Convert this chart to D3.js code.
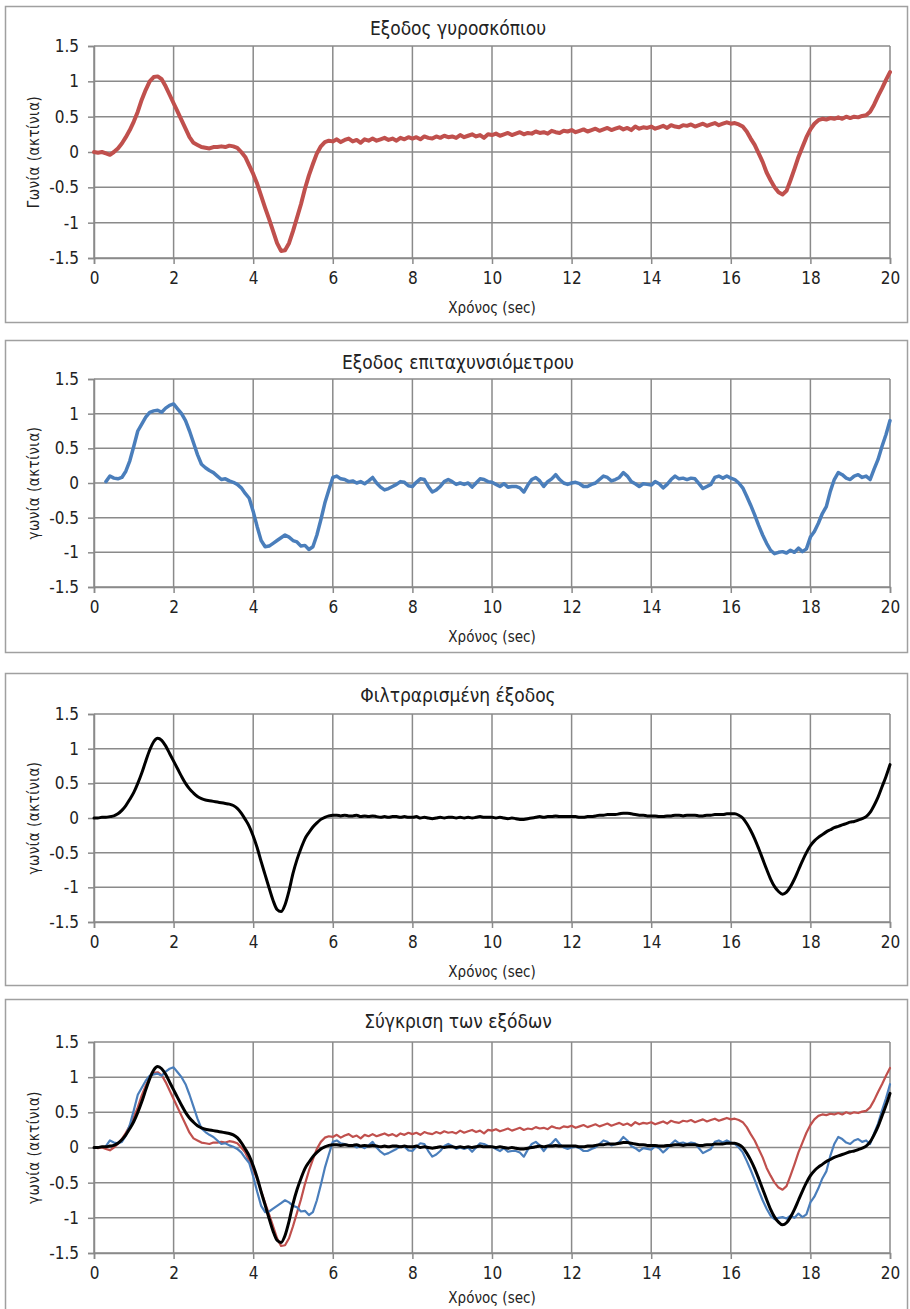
<!DOCTYPE html>
<html>
<head>
<meta charset="utf-8">
<script src="https://cdnjs.cloudflare.com/ajax/libs/d3/7.8.5/d3.min.js"></script>
<style>
  body { margin: 0; background: #fff; }
  svg text { font-family: "DejaVu Sans Condensed", "DejaVu Sans", sans-serif; fill: #222; }
</style>
</head>
<body>
<div id="chart"></div>
<script>
// sample times (sec)
const time = [
  0, 0.1, 0.2, 0.3, 0.4, 0.5, 0.6, 0.7, 0.8, 0.9,
  1, 1.1, 1.2, 1.3, 1.4, 1.5, 1.6, 1.7, 1.8, 1.9,
  2, 2.1, 2.2, 2.3, 2.4, 2.5, 2.6, 2.7, 2.8, 2.9,
  3, 3.1, 3.2, 3.3, 3.4, 3.5, 3.6, 3.7, 3.8, 3.9,
  4, 4.1, 4.2, 4.3, 4.4, 4.5, 4.6, 4.7, 4.8, 4.9,
  5, 5.1, 5.2, 5.3, 5.4, 5.5, 5.6, 5.7, 5.8, 5.9,
  6, 6.1, 6.2, 6.3, 6.4, 6.5, 6.6, 6.7, 6.8, 6.9,
  7, 7.1, 7.2, 7.3, 7.4, 7.5, 7.6, 7.7, 7.8, 7.9,
  8, 8.1, 8.2, 8.3, 8.4, 8.5, 8.6, 8.7, 8.8, 8.9,
  9, 9.1, 9.2, 9.3, 9.4, 9.5, 9.6, 9.7, 9.8, 9.9,
  10, 10.1, 10.2, 10.3, 10.4, 10.5, 10.6, 10.7, 10.8, 10.9,
  11, 11.1, 11.2, 11.3, 11.4, 11.5, 11.6, 11.7, 11.8, 11.9,
  12, 12.1, 12.2, 12.3, 12.4, 12.5, 12.6, 12.7, 12.8, 12.9,
  13, 13.1, 13.2, 13.3, 13.4, 13.5, 13.6, 13.7, 13.8, 13.9,
  14, 14.1, 14.2, 14.3, 14.4, 14.5, 14.6, 14.7, 14.8, 14.9,
  15, 15.1, 15.2, 15.3, 15.4, 15.5, 15.6, 15.7, 15.8, 15.9,
  16, 16.1, 16.2, 16.3, 16.4, 16.5, 16.6, 16.7, 16.8, 16.9,
  17, 17.1, 17.2, 17.3, 17.4, 17.5, 17.6, 17.7, 17.8, 17.9,
  18, 18.1, 18.2, 18.3, 18.4, 18.5, 18.6, 18.7, 18.8, 18.9,
  19, 19.1, 19.2, 19.3, 19.4, 19.5, 19.6, 19.7, 19.8, 19.9,
  20
];

// gyroscope output (rad)
const gyro = [
  0, -0.01, 0, -0.02, -0.04, 0, 0.05, 0.12, 0.21, 0.31,
  0.43, 0.57, 0.74, 0.88, 1.0, 1.06, 1.07, 1.03, 0.93, 0.81,
  0.69, 0.57, 0.45, 0.33, 0.21, 0.13, 0.1, 0.07, 0.06, 0.05,
  0.07, 0.07, 0.08, 0.07, 0.09, 0.08, 0.06, 0.0, -0.07, -0.19,
  -0.31, -0.45, -0.62, -0.79, -0.95, -1.12, -1.29, -1.4, -1.39, -1.29,
  -1.12, -0.93, -0.74, -0.52, -0.33, -0.17, -0.02, 0.08, 0.14, 0.16,
  0.15, 0.18, 0.14, 0.17, 0.19, 0.15, 0.17, 0.13, 0.18, 0.16,
  0.19, 0.16, 0.18, 0.2, 0.17, 0.19, 0.16, 0.2, 0.18, 0.21,
  0.19, 0.21, 0.18, 0.22, 0.2, 0.19, 0.22, 0.2, 0.23, 0.21,
  0.22, 0.2, 0.24, 0.21, 0.23, 0.25, 0.22, 0.24, 0.2, 0.25,
  0.24, 0.26, 0.23, 0.25, 0.27, 0.24, 0.26, 0.28, 0.25, 0.27,
  0.26, 0.29, 0.27, 0.28, 0.26, 0.3, 0.28, 0.27, 0.3, 0.29,
  0.31, 0.28, 0.3, 0.32, 0.29, 0.31, 0.33, 0.3, 0.32, 0.34,
  0.31, 0.33, 0.35, 0.32, 0.34, 0.31, 0.36, 0.33, 0.35, 0.34,
  0.36, 0.33, 0.35, 0.37, 0.34, 0.38, 0.36, 0.35, 0.38, 0.37,
  0.39, 0.36, 0.38, 0.4, 0.37, 0.39, 0.41, 0.38, 0.4, 0.42,
  0.4, 0.41, 0.39, 0.36, 0.29, 0.19, 0.1, -0.02, -0.14, -0.29,
  -0.4, -0.5, -0.57, -0.6, -0.55, -0.4, -0.24, -0.07, 0.07, 0.21,
  0.32, 0.4, 0.45, 0.47, 0.46, 0.48, 0.47, 0.49, 0.47, 0.5,
  0.48, 0.5, 0.49, 0.51, 0.52, 0.57, 0.67, 0.79, 0.9, 1.02,
  1.13
];

// accelerometer output (rad), starts at 0.3 s
const accel = [
  null, null, null, 0.02, 0.1, 0.07, 0.06, 0.08, 0.17, 0.32,
  0.53, 0.75, 0.85, 0.95, 1.02, 1.04, 1.05, 1.02, 1.08, 1.12,
  1.14, 1.07, 1.0, 0.9, 0.75, 0.58, 0.41, 0.27, 0.22, 0.18,
  0.15, 0.1, 0.05, 0.06, 0.03, 0.01, -0.02, -0.07, -0.15, -0.22,
  -0.41, -0.63, -0.83, -0.92, -0.91, -0.87, -0.83, -0.79, -0.75, -0.78,
  -0.83, -0.85, -0.91, -0.9, -0.96, -0.92, -0.75, -0.53, -0.29, -0.1,
  0.08, 0.1, 0.06, 0.05, 0.02, 0.03, 0.0, 0.02, -0.01, 0.03,
  0.08, 0.0, -0.06, -0.1, -0.08, -0.05, -0.02, 0.02, 0.01, -0.04,
  -0.05, 0.01, 0.06, 0.05, -0.05, -0.13, -0.1, -0.05, 0.02, 0.05,
  0.02, -0.02, 0.0, -0.02, 0.0, -0.06, 0.0, 0.06, 0.05, 0.02,
  0.01, -0.02, -0.05, -0.01, -0.06, -0.05, -0.05, -0.07, -0.13, -0.03,
  0.05, 0.08, 0.03, -0.05, 0.02, 0.06, 0.12, 0.05, 0.0, -0.02,
  0.0, 0.01, -0.01, -0.05, -0.05, -0.02, 0.0, 0.05, 0.1, 0.08,
  0.03, 0.05, 0.08, 0.15, 0.1, 0.02, -0.01, -0.05, -0.01, -0.02,
  -0.03, 0.02, -0.01, -0.07, -0.02, 0.05, 0.1, 0.06, 0.07, 0.05,
  0.07, 0.06, -0.01, -0.08, -0.05, -0.02, 0.08, 0.1, 0.07, 0.1,
  0.07, 0.05, 0.0, -0.07, -0.19, -0.32, -0.46, -0.61, -0.75, -0.87,
  -0.97, -1.02, -1.0, -0.99, -1.01, -0.97, -1.0, -0.94, -0.99, -0.95,
  -0.78, -0.7, -0.58, -0.44, -0.34, -0.12, 0.05, 0.15, 0.12, 0.07,
  0.05, 0.1, 0.12, 0.08, 0.1, 0.05, 0.2, 0.34, 0.53, 0.7,
  0.9
];

// filtered output (rad)
const filtered = [
  0, 0, 0.01, 0.01, 0.02, 0.03, 0.06, 0.11, 0.18, 0.27,
  0.37, 0.5, 0.65, 0.82, 0.98, 1.1, 1.15, 1.12, 1.04, 0.93,
  0.82, 0.71, 0.6, 0.5, 0.42, 0.36, 0.31, 0.28, 0.26, 0.25,
  0.24, 0.23, 0.22, 0.21, 0.2, 0.18, 0.14, 0.07, -0.02, -0.12,
  -0.26, -0.43, -0.63, -0.82, -1.01, -1.19, -1.32, -1.35, -1.25, -1.05,
  -0.8, -0.6, -0.44, -0.3, -0.21, -0.13, -0.07, -0.02, 0.01, 0.03,
  0.04, 0.04, 0.03, 0.04, 0.03, 0.03, 0.04, 0.02, 0.03, 0.02,
  0.03, 0.02, 0.01, 0.02, 0.01, 0.02, 0.02, 0.01, 0.02, 0.01,
  0.01, 0.02, 0.0, 0.01, 0.0, -0.01, 0.0, 0.01, 0.0, 0.01,
  0.01, 0.0, 0.01, 0.0, 0.01, 0.0, 0.01, 0.02, 0.01, 0.01,
  0.01, 0.0, 0.01, 0.0, -0.01, 0.0, -0.01, -0.02, -0.02, -0.01,
  0.0, 0.01, 0.02, 0.01, 0.02, 0.02, 0.03, 0.02, 0.02, 0.02,
  0.02, 0.02, 0.01, 0.01, 0.02, 0.02, 0.03, 0.04, 0.04, 0.05,
  0.05, 0.05, 0.06, 0.07, 0.07, 0.06, 0.05, 0.04, 0.04, 0.03,
  0.03, 0.03, 0.02, 0.02, 0.03, 0.03, 0.04, 0.04, 0.03, 0.04,
  0.04, 0.04, 0.03, 0.03, 0.04, 0.04, 0.05, 0.05, 0.05, 0.06,
  0.06, 0.06, 0.04, 0.0, -0.08, -0.18, -0.3, -0.44, -0.59, -0.74,
  -0.88, -0.99, -1.06, -1.1, -1.07, -0.99, -0.88, -0.75, -0.62, -0.5,
  -0.4, -0.33, -0.28, -0.24, -0.2, -0.17, -0.14, -0.12, -0.1, -0.08,
  -0.06, -0.05, -0.03, -0.01, 0.02, 0.08, 0.18, 0.3, 0.45, 0.6,
  0.77
];

const xTicks = [0, 2, 4, 6, 8, 10, 12, 14, 16, 18, 20];
const yTicks = [-1.5, -1, -0.5, 0, 0.5, 1, 1.5];

const titles = ["Εξοδος  γυροσκόπιου", "Εξοδος επιταχυνσιόμετρου", "Φιλτραρισμένη έξοδος", "Σύγκριση των εξόδων"];
const yLabels = ["Γωνία (ακτίνια)", "γωνία (ακτίνια)", "γωνία (ακτίνια)", "γωνία (ακτίνια)"];
const xLabel = "Χρόνος (sec)";

const RED = "#c0504d", BLUE = "#4a7ebb", BLACK = "#000";

// panel frames (box) and plot areas
const panels = [
  { box: [6, 322], plot: [46, 258], title: titles[0], ylab: yLabels[0],
    series: [{ v: gyro, c: RED, w: 4, smooth: false }] },
  { box: [340, 652], plot: [379, 587], title: titles[1], ylab: yLabels[1],
    series: [{ v: accel, c: BLUE, w: 3.5, smooth: false }] },
  { box: [673, 985], plot: [714, 922], title: titles[2], ylab: yLabels[2],
    series: [{ v: filtered, c: BLACK, w: 3, smooth: true }] },
  { box: [999, 1320], plot: [1042, 1253], title: titles[3], ylab: yLabels[3],
    series: [{ v: gyro, c: RED, w: 2.2, smooth: false },
             { v: accel, c: BLUE, w: 2.2, smooth: false },
             { v: filtered, c: BLACK, w: 3, smooth: true }] }
];

const W = 910, H = 1309;
const plotLeft = 94, plotRight = 890;
const gridColor = "#8a8a8a";

const svg = d3.select("#chart").append("svg")
  .attr("width", W)
  .attr("height", H)
  .style("background", "#fff");

const x = d3.scaleLinear().domain([0, 20]).range([plotLeft, plotRight]);

panels.forEach(function (p) {
  const g = svg.append("g");

  // frame
  g.append("rect")
    .attr("x", 5.5).attr("y", p.box[0] + 0.5)
    .attr("width", 902).attr("height", p.box[1] - p.box[0])
    .attr("fill", "#fff")
    .attr("stroke", "#a0a0a0")
    .attr("stroke-width", 1.5);

  const y = d3.scaleLinear().domain([-1.5, 1.5]).range([p.plot[1], p.plot[0]]);

  // grid
  g.append("g").selectAll("line")
    .data(yTicks).enter().append("line")
    .attr("x1", plotLeft).attr("x2", plotRight)
    .attr("y1", d => y(d)).attr("y2", d => y(d))
    .attr("stroke", gridColor).attr("stroke-width", 1.5);
  g.append("g").selectAll("line")
    .data(xTicks).enter().append("line")
    .attr("x1", d => x(d)).attr("x2", d => x(d))
    .attr("y1", p.plot[0]).attr("y2", p.plot[1])
    .attr("stroke", gridColor).attr("stroke-width", 1.5);

  // axes
  const xAxis = g.append("g")
    .attr("transform", `translate(0,${p.plot[1]})`)
    .call(d3.axisBottom(x).tickValues(xTicks).tickSize(6).tickPadding(8).tickFormat(d => String(d)));
  const yAxis = g.append("g")
    .attr("transform", `translate(${plotLeft},0)`)
    .call(d3.axisLeft(y).tickValues(yTicks).tickSize(6).tickPadding(9).tickFormat(d => String(d)));
  [xAxis, yAxis].forEach(a => {
    a.select(".domain").attr("stroke", gridColor).attr("stroke-width", 1.5);
    a.selectAll(".tick line").attr("stroke", gridColor).attr("stroke-width", 1.5);
    a.selectAll(".tick text").style("font-size", "17px").attr("fill", "#2a2a2a");
  });

  // title
  g.append("text")
    .attr("x", 458).attr("y", p.box[0] + 29)
    .attr("text-anchor", "middle")
    .style("font-size", "19px")
    .text(p.title);

  // x label (kept inside the page for the bottom panel)
  g.append("text")
    .attr("x", 492).attr("y", Math.min(p.plot[1] + 55, H - 6))
    .attr("text-anchor", "middle")
    .style("font-size", "15px")
    .text(xLabel);

  // y label
  g.append("text")
    .attr("transform", `translate(39,${(p.plot[0] + p.plot[1]) / 2}) rotate(-90)`)
    .attr("text-anchor", "middle")
    .style("font-size", "15px")
    .style("letter-spacing", "0.5px")
    .text(p.ylab);

  // series
  p.series.forEach(function (s) {
    const line = d3.line()
      .defined((d, i) => s.v[i] != null)
      .x((d, i) => x(time[i]))
      .y((d, i) => y(s.v[i]))
      .curve(s.smooth ? d3.curveMonotoneX : d3.curveLinear);
    g.append("path")
      .datum(time)
      .attr("d", line)
      .attr("fill", "none")
      .attr("stroke", s.c)
      .attr("stroke-width", s.w)
      .attr("stroke-linejoin", "round")
      .attr("stroke-linecap", "round");
  });
});
</script>
</body>
</html>
